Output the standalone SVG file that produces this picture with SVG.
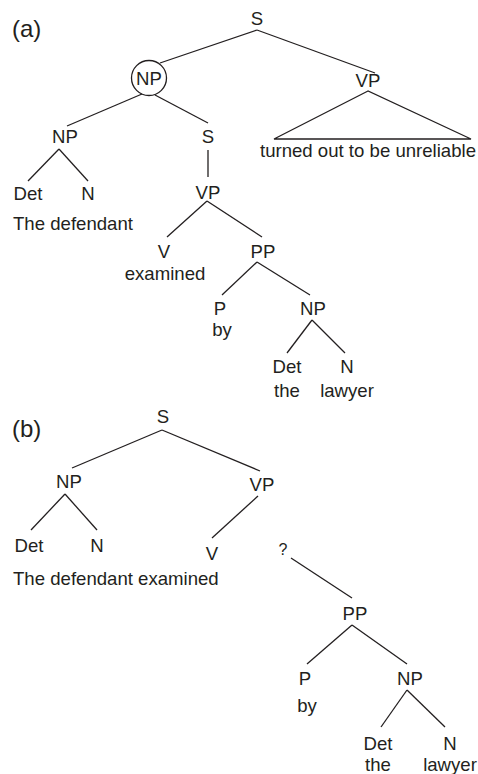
<svg xmlns="http://www.w3.org/2000/svg" width="478" height="774" viewBox="0 0 478 774">
<style>
text{font-family:"Liberation Sans",Arial,Helvetica,sans-serif;font-size:18.6px;fill:#231f20;text-anchor:middle}
.lbl{font-size:24px;text-anchor:start}
.st{text-anchor:start}
.q{font-size:16px}
line,polygon,circle{stroke:#231f20;stroke-width:1.3;fill:none}
</style>
<rect width="478" height="774" fill="#fff"/>
<g id="labels">
<text class="lbl" x="12" y="37">(a)</text>
<text class="lbl" x="12" y="437">(b)</text>
</g>
<g id="connectors">
<line x1="257" y1="30" x2="160" y2="63"/>
<line x1="257" y1="30" x2="375" y2="73"/>
<polygon points="368,91 274,139 471,139"/>
<line x1="142" y1="94" x2="67" y2="126"/>
<line x1="155" y1="95" x2="208" y2="123"/>
<line x1="59" y1="149" x2="28" y2="181"/>
<line x1="59" y1="149" x2="88" y2="181"/>
<line x1="208" y1="150" x2="208" y2="177"/>
<line x1="207" y1="201" x2="167" y2="237"/>
<line x1="207" y1="201" x2="262" y2="237"/>
<line x1="257" y1="262" x2="222" y2="295"/>
<line x1="257" y1="262" x2="310" y2="295"/>
<line x1="312" y1="320" x2="287" y2="353"/>
<line x1="312" y1="320" x2="345" y2="353"/>
<line x1="162" y1="430" x2="72" y2="468"/>
<line x1="162" y1="430" x2="260" y2="471"/>
<line x1="65" y1="494" x2="31" y2="530"/>
<line x1="65" y1="494" x2="97" y2="530"/>
<line x1="258" y1="496" x2="212" y2="538"/>
<line x1="291" y1="558" x2="352" y2="598"/>
<line x1="352" y1="625" x2="307" y2="664"/>
<line x1="352" y1="625" x2="407" y2="664"/>
<line x1="407" y1="690" x2="381" y2="727"/>
<line x1="407" y1="690" x2="445" y2="727"/>
</g>
<g id="a-S"><text x="257" y="25">S</text></g>
<g id="a-NP-circled"><circle cx="149" cy="78" r="17.5"/><text x="149" y="85">NP</text></g>
<g id="a-VP"><text x="368" y="87">VP</text><text x="368" y="157">turned out to be unreliable</text></g>
<g id="a-NP"><text x="65" y="143">NP</text></g>
<g id="a-S2"><text x="208" y="143">S</text></g>
<g id="a-Det"><text x="28" y="200">Det</text></g>
<g id="a-N"><text x="88" y="200">N</text></g>
<g id="a-words1"><text class="st" x="13" y="230">The defendant</text></g>
<g id="a-VP2"><text x="208" y="199">VP</text></g>
<g id="a-V"><text x="164" y="258">V</text><text x="165" y="280">examined</text></g>
<g id="a-PP"><text x="263" y="258">PP</text></g>
<g id="a-P"><text x="220" y="315">P</text><text x="222" y="336">by</text></g>
<g id="a-NP2"><text x="313" y="315">NP</text></g>
<g id="a-Det2"><text x="287" y="373">Det</text><text x="287" y="397">the</text></g>
<g id="a-N2"><text x="347" y="373">N</text><text x="347" y="397">lawyer</text></g>
<g id="b-S"><text x="163" y="423">S</text></g>
<g id="b-NP"><text x="69" y="488">NP</text></g>
<g id="b-VP"><text x="262" y="491">VP</text></g>
<g id="b-Det"><text x="29" y="552">Det</text></g>
<g id="b-N"><text x="97" y="552">N</text></g>
<g id="b-V"><text x="212" y="560">V</text></g>
<g id="b-q"><text class="q" x="283" y="555">?</text></g>
<g id="b-words"><text class="st" x="13" y="585">The defendant examined</text></g>
<g id="b-PP"><text x="355" y="620">PP</text></g>
<g id="b-P"><text x="305" y="685">P</text><text x="307" y="712">by</text></g>
<g id="b-NP2"><text x="410" y="685">NP</text></g>
<g id="b-Det2"><text x="378" y="750">Det</text><text x="378" y="771">the</text></g>
<g id="b-N2"><text x="450" y="750">N</text><text x="450" y="771">lawyer</text></g>
</svg>
